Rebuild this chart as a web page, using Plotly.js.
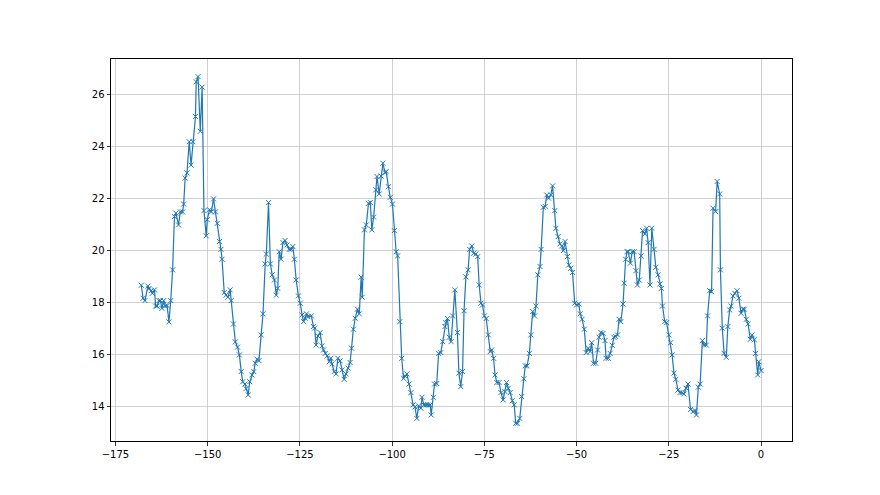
<!DOCTYPE html>
<html>
<head>
<meta charset="utf-8">
<script src="https://cdn.plot.ly/plotly-3.0.1.min.js"></script>
<style>html,body{margin:0;padding:0;background:#fff;}#chart{width:880px;height:495px;}</style>
</head>
<body>
<div id="chart"></div>
<script>
const xValues = [
-168.0,-167.5,-167.0,-166.2,-165.9,-165.3,-165.0,-164.4,-164.1,-163.7,-163.2,-162.8,-162.4,-161.9,-161.5,-161.0,-160.5,-160.0,-159.5,-159.0,-158.6,-157.9,-157.4,-156.8,-156.5,-156.1,-155.6,-155.0,-154.5,
-154.0,-153.3,-153.1,-152.6,-152.0,-151.5,-151.0,-150.4,-150.1,-149.5,-149.0,-148.4,-147.9,-147.4,-146.8,-146.4,-146.1,-145.5,-145.0,-144.5,-143.9,-143.6,-143.0,-142.5,-141.9,-141.4,-140.9,-140.5,-139.9,-139.6,-139.0,-138.6,
-138.0,-137.5,-137.1,-136.6,-136.1,-135.5,-135.0,-134.4,-134.1,-133.5,-133.0,-132.5,-131.9,-131.4,-131.0,-130.6,-130.1,-129.6,-129.0,-128.5,-127.9,-127.4,-126.9,-126.5,-126.0,-125.4,-124.9,-124.4,-124.0,
-123.6,-123.2,-122.8,-121.9,-121.3,-121.0,-120.6,-120.1,-119.5,-119.0,-118.6,-118.1,-117.6,-117.0,-116.6,-116.3,-115.7,-115.2,-114.7,-114.1,-113.6,-113.0,-112.5,-111.9,-111.4,-111.0,-110.5,-110.0,-109.4,-108.9,
-108.4,-108.1,-107.5,-107.0,-106.4,-105.9,-105.5,-105.0,-104.4,-104.1,-103.5,-103.0,-102.5,-101.9,-101.6,-101.0,-100.5,-99.9,-99.4,-98.9,-98.5,-97.9,-97.4,-96.9,-96.5,-96.0,-95.4,-94.9,-94.3,-93.8,
-93.3,-92.8,-92.2,-91.9,-91.4,-90.8,-90.3,-89.7,-89.4,-88.8,-88.5,-87.9,-87.4,-86.8,-86.3,-85.7,-85.4,-85.0,-84.5,-84.0,-83.6,-83.0,-82.3,-81.9,-81.4,-80.9,-80.5,-80.0,-79.4,-79.0,
-78.4,-77.9,-77.3,-76.8,-76.4,-75.9,-75.5,-75.0,-74.5,-73.9,-73.4,-73.0,-72.5,-72.1,-71.6,-71.0,-70.5,-69.9,-69.4,-69.0,-68.5,-68.0,-67.4,-66.9,-66.5,-66.0,-65.4,-64.9,-64.3,
-63.9,-63.4,-62.8,-62.4,-61.9,-61.4,-61.0,-60.5,-59.9,-59.6,-59.0,-58.5,-58.1,-57.6,-57.0,-56.5,-55.9,-55.6,-55.0,-54.5,-54.0,-53.6,-53.1,-52.5,-52.1,-51.6,-51.1,-50.5,-50.0,-49.4,
-49.0,-48.5,-47.9,-47.4,-46.8,-46.3,-45.9,-45.4,-44.8,-44.3,-43.9,-43.4,-42.8,-42.3,-42.0,-41.4,-40.9,-40.3,-39.9,-39.4,-38.9,-38.5,-38.0,-37.4,-37.1,-36.7,-36.3,-36.0,-35.4,-34.9,-34.4,
-33.9,-33.5,-33.0,-32.5,-32.1,-31.5,-31.0,-30.6,-30.1,-29.6,-29.0,-28.5,-27.9,-27.4,-27.0,-26.7,-26.1,-25.6,-25.0,-24.5,-24.1,-23.6,-23.1,-22.5,-22.0,-21.4,-20.9,-20.3,-19.8,
-19.1,-18.4,-17.9,-17.5,-17.0,-16.5,-15.9,-15.4,-14.8,-14.5,-13.9,-13.4,-13.0,-12.3,-11.9,-11.2,-11.0,-10.5,-10.0,-9.4,-9.0,-8.5,-8.1,-7.6,-7.1,-6.5,-6.0,-5.4,-4.9,-4.5,-4.0,-3.5,-2.9,-2.4,-1.8,-1.5,-0.9,-0.6,0.0
];
const yValues = [
18.68,18.18,18.09,18.65,18.55,18.47,18.37,18.50,17.88,17.88,18.09,18.09,17.79,18.09,17.88,17.90,17.27,18.09,19.27,21.32,21.45,21.00,21.50,21.50,21.80,22.80,23.00,24.20,23.30,
24.20,25.17,26.50,26.70,24.60,26.30,21.55,20.58,21.20,21.58,21.50,22.00,21.50,21.06,20.36,20.06,19.68,18.40,18.30,18.22,18.50,18.09,17.19,16.50,16.30,16.00,15.36,14.97,14.88,14.70,14.46,14.97,
15.23,15.36,15.68,15.83,15.78,16.77,17.58,19.50,19.88,21.86,19.50,19.08,18.88,18.30,18.56,19.97,19.68,20.32,20.40,20.23,20.06,20.06,20.17,19.68,18.88,18.27,17.99,17.54,17.28,
17.41,17.58,17.47,17.50,17.09,17.03,16.38,16.73,16.86,16.35,16.19,16.06,15.96,15.74,15.87,15.65,15.36,15.27,15.87,15.77,15.42,15.06,15.27,15.49,15.71,16.26,16.99,17.41,17.76,17.58,
18.99,18.22,20.81,21.00,21.83,21.86,20.81,21.30,22.35,22.86,22.19,22.88,23.37,23.01,23.05,22.47,22.06,21.80,20.78,19.97,19.81,17.28,15.87,15.10,15.19,15.27,14.88,14.55,14.08,14.00,
13.56,14.04,13.95,14.37,14.08,14.08,14.08,14.08,13.69,14.37,14.88,14.90,16.06,16.09,16.51,17.09,17.24,17.40,16.68,16.51,17.50,18.50,16.86,15.30,14.78,15.36,17.70,19.00,19.27,20.06,
20.19,19.91,19.88,19.78,18.69,17.99,17.92,17.50,17.40,16.77,16.13,16.19,15.87,15.23,14.94,14.94,14.55,14.27,14.59,14.94,14.72,14.55,14.24,14.08,13.37,13.37,13.56,14.40,15.08,
15.58,15.58,16.06,16.77,17.67,17.50,17.88,19.08,19.40,20.06,21.68,21.71,22.15,22.03,22.15,22.50,21.55,20.87,20.55,20.27,20.19,20.01,20.36,19.78,19.46,19.33,19.17,17.99,17.92,17.96,
17.58,17.37,16.99,16.09,16.26,16.13,16.47,15.68,15.68,16.19,16.68,16.86,16.83,16.55,15.87,15.87,16.06,16.37,16.68,16.71,16.77,17.37,17.28,17.96,18.76,19.68,19.97,19.97,19.53,19.97,19.97,
19.24,18.69,18.88,19.81,20.78,20.65,20.87,20.32,18.69,20.87,20.06,19.37,19.08,18.73,18.56,17.88,17.28,17.24,16.77,16.47,16.00,15.30,15.06,14.65,14.55,14.55,14.50,14.72,14.88,
13.90,13.82,13.86,13.69,14.76,14.88,16.55,16.38,16.38,17.50,18.47,18.44,21.64,21.51,22.67,22.19,19.27,17.03,16.06,15.91,17.09,17.73,17.88,18.27,18.37,18.47,18.18,17.60,17.76,17.76,17.37,17.19,16.60,16.77,16.58,16.06,15.23,15.74,15.40
];
const xTicks = [-175, -150, -125, -100, -75, -50, -25, 0];
const xTickLabels = ['\u2212175', '\u2212150', '\u2212125', '\u2212100', '\u221275', '\u221250', '\u221225', '0'];
const yTicks = [14, 16, 18, 20, 22, 24, 26];

const trace = {
  x: xValues,
  y: yValues,
  type: 'scatter',
  mode: 'lines+markers',
  line: {color: '#1f77b4', width: 1.2},
  marker: {symbol: 'x-thin', size: 5, color: '#1f77b4', line: {color: '#1f77b4', width: 1}},
  hoverinfo: 'x+y'
};

const axisCommon = {
  showline: true, mirror: true, linecolor: '#000', linewidth: 1,
  ticks: 'outside', ticklen: 3.5, tickwidth: 0.8, tickcolor: '#000',
  showgrid: true, gridcolor: '#c4c4c4', gridwidth: 0.8,
  zeroline: false,
  tickfont: {family: 'DejaVu Sans, sans-serif', size: 10, color: '#000'}
};

const layout = {
  width: 880, height: 495,
  margin: {l: 111, r: 88, t: 59, b: 54, pad: 0},
  paper_bgcolor: '#fff', plot_bgcolor: '#fff',
  showlegend: false,
  xaxis: Object.assign({}, axisCommon, {
    range: [-176.2, 8.4],
    tickmode: 'array', tickvals: xTicks, ticktext: xTickLabels
  }),
  yaxis: Object.assign({}, axisCommon, {
    range: [12.69, 27.38],
    tickmode: 'array', tickvals: yTicks, ticktext: yTicks.map(String)
  })
};

Plotly.newPlot('chart', [trace], layout, {staticPlot: true, displayModeBar: false});
</script>
</body>
</html>
